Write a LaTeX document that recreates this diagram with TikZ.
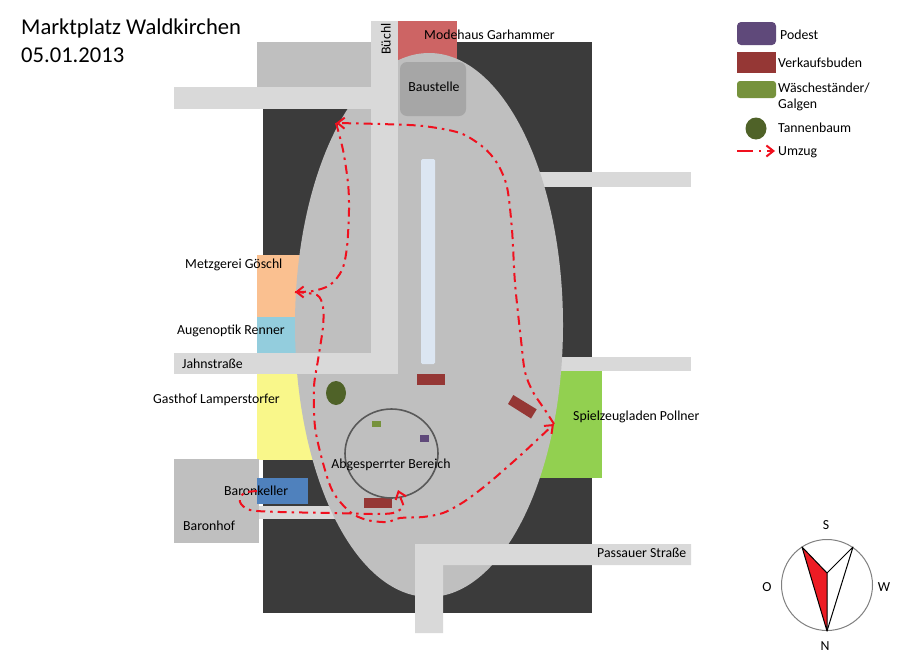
\documentclass[tikz,border=0pt]{standalone}
\usepackage{fontspec}
\setmainfont{Carlito}
\usetikzlibrary{arrows.meta}
\definecolor{darkbg}{HTML}{3B3B3B}
\definecolor{plaza}{HTML}{BFBFBF}
\definecolor{road}{HTML}{D9D9D9}
\definecolor{booth}{HTML}{953735}
\definecolor{stage}{HTML}{5F497A}
\definecolor{rack}{HTML}{76923C}
\definecolor{tree}{HTML}{4F6228}
\definecolor{routered}{HTML}{F0101E}
\definecolor{cgarhammer}{HTML}{CD6464}
\definecolor{cpollner}{HTML}{92D050}
\definecolor{cgoeschl}{HTML}{FAC090}
\definecolor{crenner}{HTML}{93CDDD}
\definecolor{clamper}{HTML}{F9F78A}
\definecolor{ckeller}{HTML}{4F81BD}
\definecolor{cbaustelle}{HTML}{A6A6A6}
\definecolor{cslab}{HTML}{DCE6F2}
\definecolor{cring}{HTML}{595959}
\definecolor{ccompass}{HTML}{808080}
\definecolor{cneedle}{HTML}{ED1C24}
\tikzset{
  x=1pt,y=-1pt,
  lbl/.style={inner sep=0pt,font=\fontsize{13.8}{16.5}\selectfont,text=black},
  titlelbl/.style={inner sep=0pt,anchor=north west,align=left,font=\fontsize{22.6}{28}\selectfont},
  route/.style={draw=routered,line width=2pt,dash pattern=on 9pt off 5pt on 2.5pt off 5pt,
    -{Straight Barb[length=7pt,width=11pt,line width=2pt]}},
  routekey/.style={route,dash pattern=on 16pt off 6pt on 2pt off 6pt},
}
\begin{document}
\begin{tikzpicture}
\useasboundingbox (0,0) rectangle (899,670);
\fill[white] (0,0) rectangle (899,670);
% ground
\fill[darkbg] (263,42) rectangle (592,613);
\fill[plaza] (257,42) rectangle (371,87);
% buildings below the plaza
\fill[cgarhammer] (398,21) rectangle (457,70);
\fill[cpollner] (530,371) rectangle (602,478);
\fill[cgoeschl] (257,255) rectangle (310,317);
\fill[crenner] (257,317) rectangle (310,353);
\fill[clamper] (257,374) rectangle (320,460);
% side roads below the plaza
\fill[road] (530,172) rectangle (691,187);
\fill[road] (550,357) rectangle (691,371);
\fill[road] (259,506) rectangle (350,519);
% plaza
\fill[plaza] (429,325) ellipse [x radius=134,y radius=272];
% elements above the plaza
\fill[road] (174,87) rectangle (371,109);
\fill[road] (371,21) rectangle (398,374);
\fill[road] (174,353) rectangle (398,374);
\fill[road] (415,544) -- (691,544) -- (691,565) -- (443,565) -- (443,633) -- (415,633) -- cycle;
\fill[plaza] (174,459) rectangle (259,543);
\fill[ckeller] (257,478) rectangle (308,504);
\fill[cbaustelle,rounded corners=7pt] (400,62) rectangle (466,116);
\fill[cslab,rounded corners=1.5pt] (421,159) rectangle (435,364);
\fill[booth] (417,374) rectangle (445,385);
\fill[booth] (364,498) rectangle (392,508);
\fill[booth] (513.3,395) -- (536.7,409.3) -- (531,418.5) -- (508,404) -- cycle;
\fill[tree] (336,393) ellipse [x radius=10,y radius=12];
\draw[cring,line width=1.6pt] (391.5,453.5) ellipse [x radius=46.5,y radius=44.5];
\fill[rack] (372,421) rectangle (381,427);
\fill[stage] (420,435) rectangle (429,442);
% labels
\node[titlelbl] (title) at (21,18.5) {Marktplatz Waldkirchen\\05.01.2013};
\node[lbl,anchor=west] (garhammer) at (424,35) {Modehaus Garhammer};
\node[lbl,anchor=center] (baustelle) at (434,87) {Baustelle};
\node[lbl,anchor=center,rotate=90] (buechl) at (386,39) {Büchl};
\node[lbl,anchor=west] (goeschl) at (185,265) {Metzgerei Göschl};
\node[lbl,anchor=west] (renner) at (177,331) {Augenoptik Renner};
\node[lbl,anchor=west] (jahn) at (182,364) {Jahnstraße};
\node[lbl,anchor=west] (lamper) at (153,400) {Gasthof Lamperstorfer};
\node[lbl,anchor=west] (pollner) at (573,417) {Spielzeugladen Pollner};
\node[lbl,anchor=center] (bereich) at (391,465) {Abgesperrter Bereich};
\node[lbl,anchor=west] (keller) at (224,491) {Baronkeller};
\node[lbl,anchor=west] (baronhof) at (183,526) {Baronhof};
\node[lbl,anchor=west] (passauer) at (597,553) {Passauer Straße};
% route
\coordinate (start) at (257,491);
\coordinate (podium) at (398,490);
\coordinate (shop) at (554,424);
\coordinate (north) at (336,123);
\coordinate (butcher) at (295,292);
\draw[route] plot[smooth,tension=.5] coordinates {(start) (244,493) (240,502) (250,510) (280,512) (333,513) (373,514) (393,513) (403,507) (401,499) (podium)};
\draw[route] plot[smooth,tension=.5] coordinates {(butcher) (317,295) (323,307) (323,327) (318,360) (314,387) (315,427) (323,463) (333,492) (350,512) (367,520) (387,522) (400,518) (423,517) (443,513) (462,503) (480,490) (497,476) (523,453) (shop)};
\draw[route] plot[smooth,tension=.5] coordinates {(shop) (545,410) (533,392) (525,372) (521,340) (515,283) (512,230) (507,187) (497,163) (483,147) (460,133) (423,126) (380,124) (north)};
\draw[route] plot[smooth,tension=.5] coordinates {(north) (343,150) (348,183) (349,210) (347,247) (342,270) (330,285) (313,291) (butcher)};
% legend
\fill[stage,rounded corners=4pt] (737,22) rectangle (776,45);
\fill[booth] (737,52) rectangle (776,73);
\fill[rack,rounded corners=3pt] (737,81) rectangle (776,98);
\fill[tree] (756,128.5) ellipse [x radius=10.5,y radius=11];
\node[lbl,anchor=west] (lpodest) at (780,35) {Podest};
\node[lbl,anchor=west] (lbuden) at (778,63) {Verkaufsbuden};
\node[lbl,anchor=north west,align=left] (lrack) at (778,82.5) {Wäscheständer/\\Galgen};
\node[lbl,anchor=west] (ltree) at (778,128) {Tannenbaum};
\node[lbl,anchor=west] (lumzug) at (778,152) {Umzug};
\coordinate (lstart) at (737,151);
\coordinate (lend) at (775,151);
\draw[routekey] (lstart) -- (lend);
% compass
\draw[ccompass,line width=1pt] (827,585) circle [radius=45.5];
\coordinate (ctip) at (827,631);
\coordinate (cmid) at (827,573);
\coordinate (cleft) at (802,547);
\coordinate (cright) at (853,547);
\draw[fill=cneedle,line width=1pt,line join=round] (cleft) -- (cmid) -- (ctip) -- cycle;
\draw[line width=1pt,line join=round] (cmid) -- (cright) -- (ctip);
\node[lbl] (cs) at (826,525) {S};
\node[lbl] (co) at (767,587) {O};
\node[lbl] (cw) at (884,587) {W};
\node[lbl] (cn) at (825,646) {N};
\end{tikzpicture}
\end{document}
